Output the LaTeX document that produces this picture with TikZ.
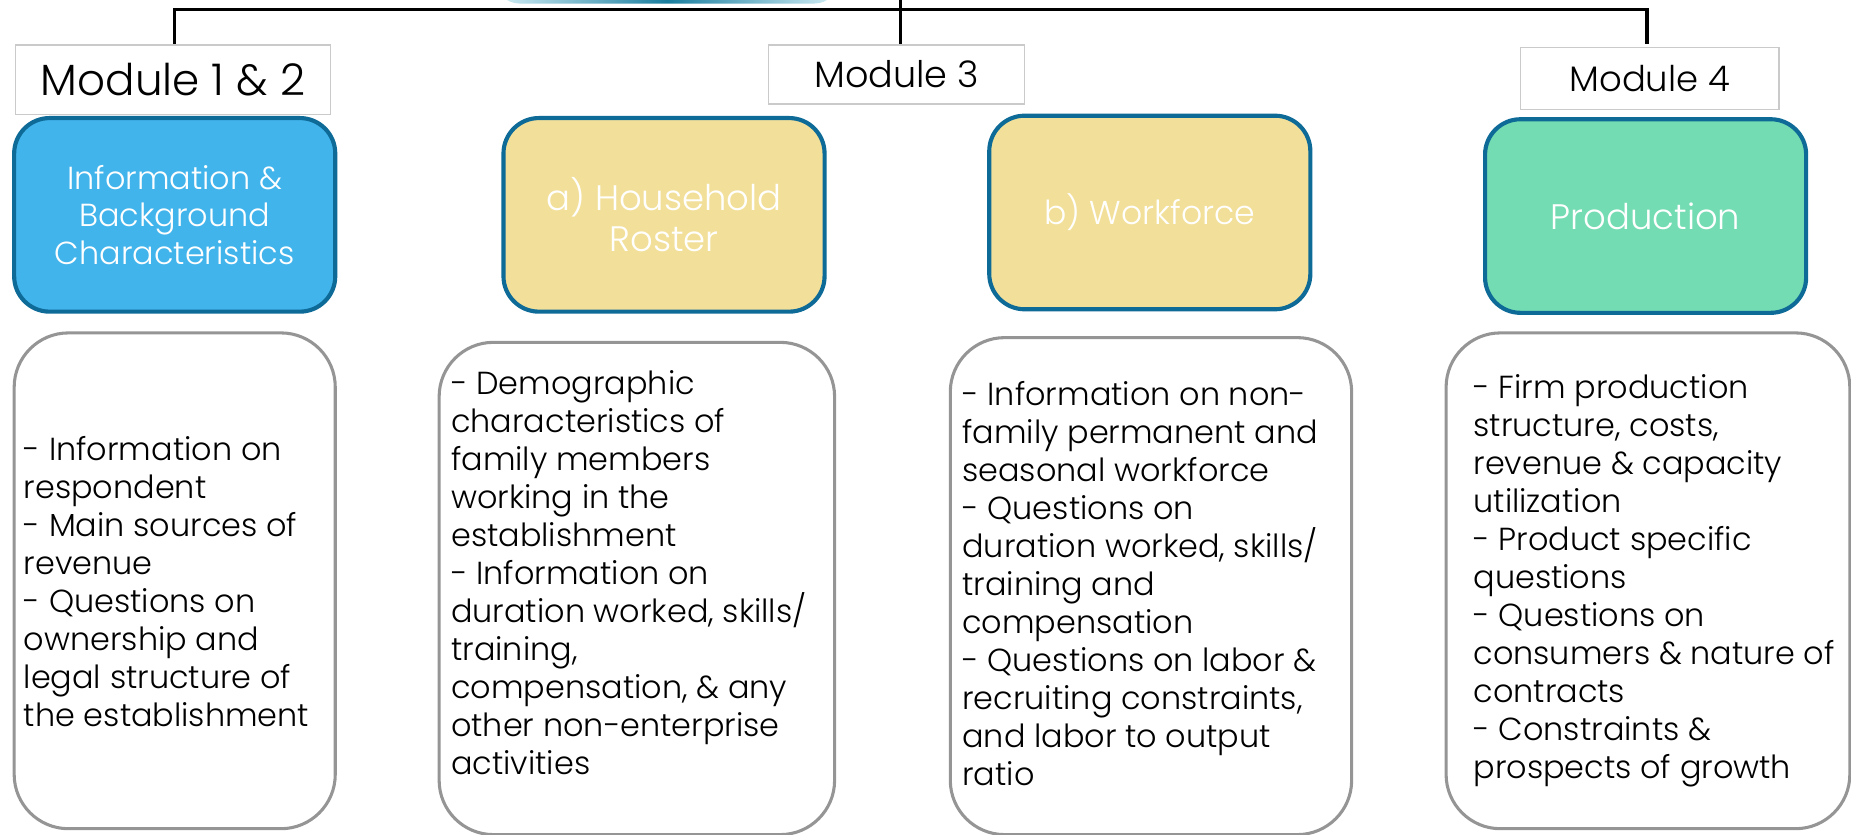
\documentclass[tikz,border=0pt]{standalone}
\usepackage{fontspec}
\IfFontExistsTF{Poppins Light}{\setmainfont{Poppins Light}}{\setmainfont{Poppins}}
\usetikzlibrary{positioning}
\definecolor{hdrblue}{HTML}{42B4EC}
\definecolor{hdryellow}{HTML}{F2E09A}
\definecolor{hdrgreen}{HTML}{73DCB2}
\definecolor{hdrborder}{HTML}{0E6A97}
\definecolor{lowborder}{HTML}{959595}
\definecolor{modborder}{HTML}{CACACA}
\definecolor{topdark}{HTML}{1A7E9F}
\definecolor{toplight}{HTML}{D4EFF6}
\tikzset{
  modbox/.style={draw=modborder, line width=1.2pt, fill=white, inner sep=0pt},
  hdrbox/.style={draw=hdrborder, line width=3.5pt, rounded corners=30pt, inner sep=0pt,
                 minimum width=272pt, minimum height=164pt, text=white, align=center,
                 font=\fontsize{26}{32}\selectfont},
  lowbox/.style={draw=lowborder, line width=2.6pt, rounded corners=46pt, fill=white, inner sep=0pt},
  lowtext/.style={anchor=west, align=left, inner sep=0pt, font=\fontsize{27}{32.2}\selectfont},
  trunk/.style={line width=3pt, black},
}
\begin{document}
\begin{tikzpicture}[x=1pt, y=-1pt]
\useasboundingbox (0,0) rectangle (1568,707);
% partial top shape
\shade[left color=toplight, right color=toplight, middle color=topdark, rounded corners=20pt]
  (420,-60) rectangle (710,3);
% module labels
\node[modbox, minimum width=267pt, minimum height=59pt, font=\fontsize{37}{40}\selectfont] (m12) at (146.5,67.5) {Module 1 \& 2};
\node[modbox, minimum width=217pt, minimum height=50pt, font=\fontsize{31}{34}\selectfont] (m3) at (759.5,63) {Module 3};
\node[modbox, minimum width=219pt, minimum height=53pt, font=\fontsize{30}{34}\selectfont] (m4) at (1397.5,66.5) {Module 4};
% connectors
\coordinate (trunktop) at (763,0);
\coordinate (bus) at (763,8);
\coordinate (s12) at (148,37);
\coordinate (s3) at (763,37);
\coordinate (s4) at (1395,37);
\draw[trunk] (trunktop) -- (s3);
\draw[trunk] (s12) |- (bus) -| (s4);
% header boxes
\node[hdrbox, fill=hdrblue, font=\fontsize{27}{32}\selectfont] (h1) at (148,182) {Information \&\\Background\\Characteristics};
\node[hdrbox, fill=hdryellow, font=\fontsize{30}{35}\selectfont] (h2) at (562.5,182) {a) Household\\Roster};
\node[hdrbox, fill=hdryellow, font=\fontsize{28}{32}\selectfont] (h3) at (974,180) {b) Workforce};
\node[hdrbox, fill=hdrgreen, font=\fontsize{30}{32}\selectfont] (h4) at (1394,183) {Production};
% lower boxes
\draw[lowbox] (12,282) rectangle (284,702);
\node[inner sep=0pt, minimum width=272pt, minimum height=420pt] (l1) at (148,492) {};
\draw[lowbox] (372,290) rectangle (707,707);
\node[inner sep=0pt, minimum width=335pt, minimum height=417pt] (l2) at (539.5,498.5) {};
\draw[lowbox] (805,286) rectangle (1145,707);
\node[inner sep=0pt, minimum width=340pt, minimum height=421pt] (l3) at (975,496.5) {};
\draw[lowbox] (1225,282) rectangle (1567,702);
\node[inner sep=0pt, minimum width=342pt, minimum height=420pt] (l4) at (1396,492) {};
% texts
\node[lowtext] (t1) at (20,493) {- Information on\\respondent\\- Main sources of\\revenue\\- Questions on\\ownership and\\legal structure of\\the establishment};
\node[lowtext] (t2) at (382,485) {- Demographic\\characteristics of\\family members\\working in the\\establishment\\- Information on\\duration worked, skills/\\training,\\compensation, \& any\\other non-enterprise\\activities};
\node[lowtext] (t3) at (815,494.5) {- Information on non-\\family permanent and\\seasonal workforce\\- Questions on\\duration worked, skills/\\training and\\compensation\\- Questions on labor \&\\recruiting constraints,\\and labor to output\\ratio};
\node[lowtext] (t4) at (1248,492) {- Firm production\\structure, costs,\\revenue \& capacity\\utilization\\- Product specific\\questions\\- Questions on\\consumers \& nature of\\contracts\\- Constraints \&\\prospects of growth};
\end{tikzpicture}
\end{document}
